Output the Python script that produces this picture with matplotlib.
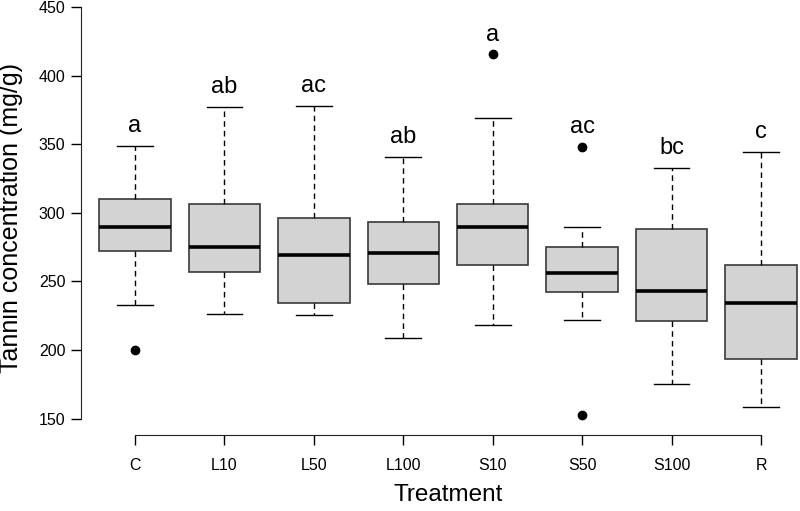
import matplotlib
matplotlib.use("Agg")
import matplotlib.pyplot as plt

plt.rcParams['font.family'] = ['Liberation Sans', 'DejaVu Sans']

# values
treatments = ["C", "L10", "L50", "L100", "S10", "S50", "S100", "R"]
medians = [290.0, 274.8, 269.0, 270.5, 289.7, 255.9, 242.8, 234.0]
q1 = [272.2, 256.6, 234.0, 248.1, 262.2, 242.5, 221.4, 193.4]
q3 = [309.8, 306.2, 296.0, 293.5, 306.2, 274.8, 288.0, 262.2]
whisk_lo = [232.8, 226.2, 225.5, 208.7, 218.2, 221.9, 175.0, 158.5]
whisk_hi = [348.9, 377.3, 377.8, 340.9, 369.3, 289.9, 332.7, 344.5]
outliers = [[200.0], [], [], [], [415.5], [348.2, 152.9], [], []]
letters = ["a", "ab", "ac", "ab", "a", "ac", "bc", "c"]
y_ticks = [150, 200, 250, 300, 350, 400, 450]

stats = []
for i in range(len(treatments)):
    stats.append(dict(med=medians[i], q1=q1[i], q3=q3[i],
                      whislo=whisk_lo[i], whishi=whisk_hi[i],
                      fliers=outliers[i], label=treatments[i]))

fig = plt.figure(figsize=(8, 5.11), dpi=100)
ax = fig.add_axes([81 / 800, 1 - 435 / 511, (800 - 81) / 800, 435 / 511])

positions = list(range(1, len(treatments) + 1))
ax.bxp(stats, positions=positions, widths=0.8, capwidths=0.4,
       patch_artist=True, showfliers=True,
       boxprops=dict(facecolor='#d3d3d3', edgecolor='#3a3a3a', linewidth=1.2),
       medianprops=dict(color='black', linewidth=2.6, solid_capstyle='butt'),
       whiskerprops=dict(color='black', linewidth=1.0, linestyle=(0, (4, 3))),
       capprops=dict(color='black', linewidth=1.0),
       flierprops=dict(marker='o', markerfacecolor='black', markeredgecolor='black',
                       markersize=6))

# significance letters above the highest point of each group
for i, lab in enumerate(letters):
    top = max([whisk_hi[i]] + outliers[i])
    ax.text(positions[i], top + 10, lab, ha='center', va='baseline', fontsize=17)

ax.set_xlim(0.396, 8.436)
ax.set_ylim(138.1, 455.1)

for side in ['top', 'right']:
    ax.spines[side].set_visible(False)
ax.spines['left'].set_bounds(150, 450)
ax.spines['bottom'].set_bounds(1, 8)
ax.spines['left'].set_color('#222222')
ax.spines['bottom'].set_color('#222222')

ax.set_yticks(y_ticks)
ax.set_xticks(positions)
ax.set_xticklabels(treatments)
ax.tick_params(axis='x', length=7.2, width=1, pad=9, labelsize=11.5, direction='out')
ax.tick_params(axis='y', length=7.2, width=1, pad=4, labelsize=11.5, direction='out')

ax.set_xlabel("Treatment", fontsize=17.5)
ax.xaxis.set_label_coords((448 - 81) / 719, -0.113)
ax.set_ylabel("Tannin concentration (mg/g)", fontsize=18, labelpad=11)

fig.savefig("out.png", dpi=100)
